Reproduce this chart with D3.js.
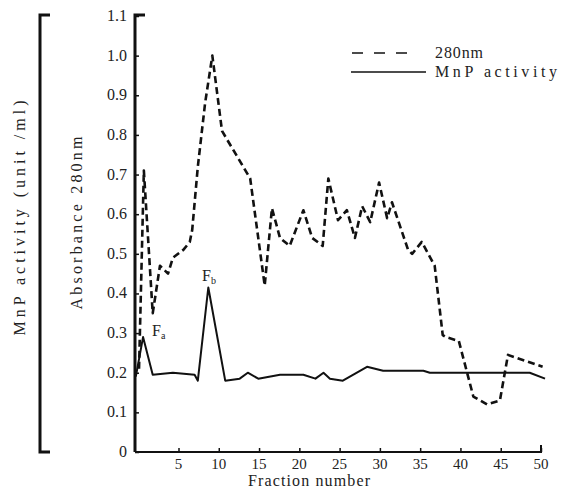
<!DOCTYPE html>
<html>
<head>
<meta charset="utf-8">
<script src="https://cdn.jsdelivr.net/npm/d3@7"></script>
<style>
    body { margin: 0; background: #fff; }
    svg text { font-family: "Times New Roman", "Liberation Serif", "DejaVu Serif", serif; fill: #222; }
</style>
</head>
<body>
<svg id="chart" width="563" height="502" font-family="Liberation Serif, DejaVu Serif, serif"></svg>
<script>
// fraction number / absorbance at 280nm (dashed)
const absFraction = [0.1, 0.7, 1.8, 2.7, 3.7, 4.3, 5.6, 6.4, 6.7, 7.4, 8.3, 9.2, 10.4, 13.9, 15.1, 15.7,
    16.6, 17.6, 18.8, 20.5, 21.6, 22.9, 23.6, 24.8, 25.9, 26.9, 27.8, 28.8, 29.9, 30.9, 31.5,
    33.5, 34.0, 35.2, 36.8, 37.8, 38.2, 39.8, 41.6, 43.3, 44.9, 45.9, 50.2];
const absValue = [0.21, 0.71, 0.35, 0.47, 0.45, 0.49, 0.51, 0.53, 0.56, 0.72, 0.88, 1.0, 0.81, 0.69, 0.51, 0.42,
    0.615, 0.54, 0.52, 0.61, 0.54, 0.52, 0.69, 0.585, 0.61, 0.54, 0.62, 0.58, 0.68, 0.59, 0.63,
    0.51, 0.50, 0.53, 0.47, 0.295, 0.29, 0.28, 0.14, 0.12, 0.13, 0.245, 0.215];

// fraction number / MnP activity (solid)
const mnpFraction = [-0.3, 0.6, 1.8, 4.3, 7.0, 7.4, 8.7, 10.8, 12.6, 13.6, 14.9, 17.6, 20.5, 22.0,
    23.0, 23.8, 25.4, 28.4, 30.4, 35.4, 36.2, 40.3, 48.6, 50.5];
const mnpValue = [0.19, 0.29, 0.195, 0.20, 0.195, 0.18, 0.415, 0.18, 0.185, 0.20, 0.185, 0.195, 0.195, 0.185,
    0.20, 0.185, 0.18, 0.215, 0.205, 0.205, 0.20, 0.20, 0.20, 0.185];

const xTicks = [5, 10, 15, 20, 25, 30, 35, 40, 45, 50];
const yTicks = [0, 0.1, 0.2, 0.3, 0.4, 0.5, 0.6, 0.7, 0.8, 0.9, 1.0, 1.1];

const svg = d3.select("svg");
const serif = "'Liberation Serif', 'DejaVu Serif', serif";

const x = d3.scaleLinear().domain([-0.4, 50]).range([135, 541]);
const y = d3.scaleLinear().domain([0, 1.1]).range([452, 16]);

const line = d3.line()
    .x(d => x(d[0]))
    .y(d => y(d[1]));

drawAxes();
drawSeries();
drawLabels();
drawLegend();

function addText(parent, size) {
    return parent.append("text")
        .style("font-family", serif)
        .style("font-size", size + "px")
        .style("fill", "#222");
}

function drawAxes() {
    const g = svg.append("g").attr("id", "axes");

    // y axis, ticks inside
    const yAxis = d3.axisRight(y).tickValues(yTicks).tickSize(4).tickFormat("");
    g.append("g")
        .attr("transform", `translate(${x.range()[0]},0)`)
        .call(yAxis)
        .call(a => a.select(".domain").remove())
        .selectAll("line").attr("stroke", "#111").attr("stroke-width", 1.5);

    yTicks.forEach(function (d) {
        addText(g, 16)
            .attr("x", 127)
            .attr("y", y(d) + 5)
            .attr("text-anchor", "end")
            .text(d === 0 ? "0" : d3.format(".1f")(d));
    });

    // x axis, ticks pointing up
    const xAxis = d3.axisTop(x).tickValues(xTicks).tickSize(4).tickFormat("");
    g.append("g")
        .attr("transform", `translate(0,${y(0)})`)
        .call(xAxis)
        .call(a => a.select(".domain").remove())
        .selectAll("line").attr("stroke", "#111").attr("stroke-width", 1.5);

    xTicks.forEach(function (d) {
        addText(g, 15)
            .attr("x", x(d))
            .attr("y", 469)
            .attr("text-anchor", "middle")
            .text(d);
    });

    // spines
    g.append("path")
        .attr("d", `M${x.range()[0] + 10},${y(1.1) - 1}H${x.range()[0]}V${y(0)}`)
        .attr("fill", "none")
        .attr("stroke", "#111")
        .attr("stroke-width", 3);
    g.append("path")
        .attr("d", `M${x.range()[0]},${y(0)}H${x(50)}V${y(0) - 7}`)
        .attr("fill", "none")
        .attr("stroke", "#111")
        .attr("stroke-width", 2);

    // bracket for the MnP activity scale
    g.append("path")
        .attr("d", `M50,${y(1.1) - 1}H40V${y(0)}H50`)
        .attr("fill", "none")
        .attr("stroke", "#111")
        .attr("stroke-width", 3);
}

function drawSeries() {
    const absData = absFraction.map((f, i) => [f, absValue[i]]);
    const mnpData = mnpFraction.map((f, i) => [f, mnpValue[i]]);

    svg.append("path")
        .datum(mnpData)
        .attr("d", line)
        .attr("fill", "none")
        .attr("stroke", "#111")
        .attr("stroke-width", 2)
        .attr("stroke-linejoin", "round");

    svg.append("path")
        .datum(absData)
        .attr("d", line)
        .attr("fill", "none")
        .attr("stroke", "#111")
        .attr("stroke-width", 2.6)
        .attr("stroke-dasharray", "7,4")
        .attr("stroke-linejoin", "round");
}

function drawLabels() {
    addText(svg, 16)
        .attr("x", 309)
        .attr("y", 486)
        .attr("text-anchor", "middle")
        .attr("textLength", 122)
        .attr("lengthAdjust", "spacing")
        .text("Fraction number");

    addText(svg, 16)
        .attr("transform", "translate(82,223) rotate(-90)")
        .attr("text-anchor", "middle")
        .attr("textLength", 173)
        .attr("lengthAdjust", "spacing")
        .text("Absorbance 280nm");

    addText(svg, 16)
        .attr("transform", "translate(25,218) rotate(-90)")
        .attr("text-anchor", "middle")
        .attr("textLength", 235)
        .attr("lengthAdjust", "spacing")
        .text("MnP activity (unit /ml)");

    // peak names
    const peaks = [["a", 152, 336], ["b", 202, 281]];
    peaks.forEach(function (p) {
        const t = addText(svg, 16)
            .attr("x", p[1])
            .attr("y", p[2]);
        t.append("tspan").text("F");
        t.append("tspan").attr("dy", 3).style("font-size", "10px").text(p[0]);
    });
}

function drawLegend() {
    const g = svg.append("g").attr("id", "legend");
    g.append("line")
        .attr("x1", 352).attr("x2", 416)
        .attr("y1", 53).attr("y2", 53)
        .attr("stroke", "#111")
        .attr("stroke-width", 1.3)
        .attr("stroke-dasharray", "11,11");
    g.append("line")
        .attr("x1", 351).attr("x2", 426)
        .attr("y1", 72).attr("y2", 72)
        .attr("stroke", "#111")
        .attr("stroke-width", 1.3);
    addText(g, 16).attr("x", 435).attr("y", 58)
        .attr("textLength", 48).attr("lengthAdjust", "spacing")
        .text("280nm");
    addText(g, 16).attr("x", 435).attr("y", 77)
        .attr("textLength", 122).attr("lengthAdjust", "spacing")
        .text("MnP activity");
}
</script>
</body>
</html>
